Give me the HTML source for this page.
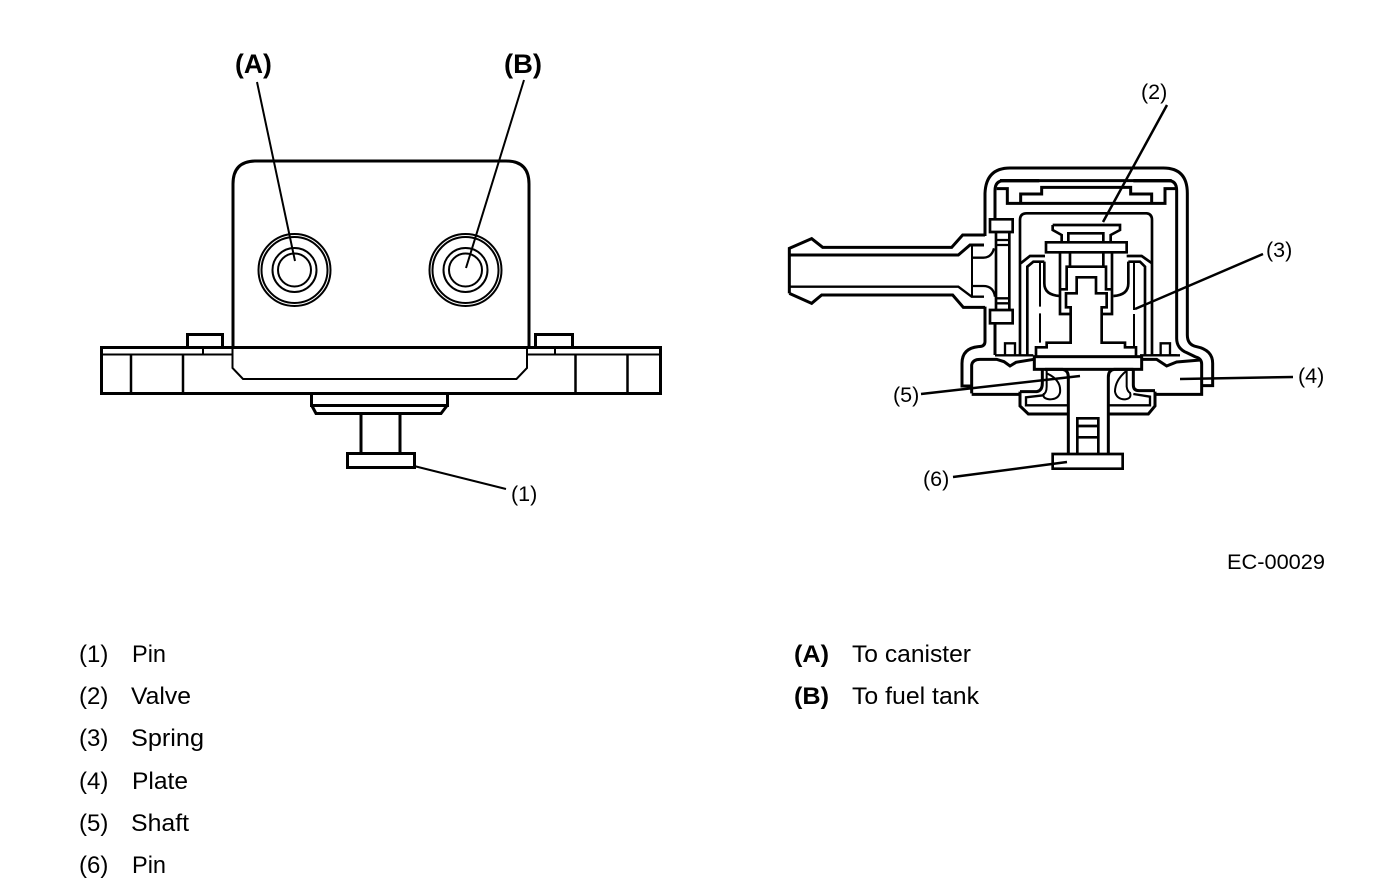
<!DOCTYPE html>
<html><head><meta charset="utf-8"><style>
html,body{margin:0;padding:0;background:#fff}
svg{display:block}
text{font-family:"Liberation Sans",sans-serif;fill:#000}
.f{font-size:21.5px}.l{font-size:24px}.b{font-weight:bold}
</style></head><body>
<svg width="1376" height="890" viewBox="0 0 1376 890" xmlns="http://www.w3.org/2000/svg">
<!-- Left drawing -->
<g fill="none" stroke="#000" stroke-width="3">
<path d="M233 347V184Q233 161 256 161H506Q529 161 529 184V347"/>
<path d="M101.500 347.500H660.500V393.500H101.500Z"/>
<path d="M102 354.500H232M527 354.500H660" stroke-width="2"/>
<path d="M131 354V393M183 354V393M575.500 354V393M627.500 354V393" stroke-width="2.500"/>
<path d="M187.500 347V334.500H222.500V347M535.500 347V334.500H572.500V347"/>
<path d="M203 347V354M555 347V354" stroke-width="2"/>
<path d="M232.500 348V368L243 379H516.500L527 368V348" stroke-width="2"/>
<path d="M311.500 394V405.500H447.500V394"/>
<path d="M311.500 405L316 413.500H441L447.500 405"/>
<path d="M361 414V453M400 414V453"/>
<path d="M347.500 453.500H414.500V467.500H347.500Z"/>
<g stroke-width="2">
<circle cx="294.500" cy="270" r="36"/><circle cx="294.500" cy="270" r="33"/><circle cx="294.500" cy="270" r="22"/><circle cx="294.500" cy="270" r="16.500"/>
<circle cx="465.500" cy="270" r="36"/><circle cx="465.500" cy="270" r="33"/><circle cx="465.500" cy="270" r="22"/><circle cx="465.500" cy="270" r="16.500"/>
</g>
<path d="M257 82L295 261M524 80L466 268M414 466L506 489" stroke-width="2"/>
</g>
<!-- Right drawing, nipple and shell (coordinates in 3x crop space) -->
<g transform="translate(780 160) scale(.33333)" fill="none" stroke="#000" stroke-width="9">
<path d="M28 400V265L95 236L128 262H515L548 225H615"/>
<path d="M28 400L95 430L125 405H518L550 442H615"/>
<path d="M30 285H535L570 255H612"/>
<path d="M30 380H535L575 410H612" stroke-width="7"/>
<path d="M576 255V410" stroke-width="6"/>
<path d="M578 293H610Q635 293 642 265M578 378H610Q640 378 645 410" stroke-width="7"/>
<path d="M615 228V100Q618 24 690 24H1150Q1222 24 1222 100V525Q1222 555 1250 560Q1298 570 1298 610V677H1262"/>
<path d="M615 440V545Q615 560 595 560Q546 565 546 610V678H578"/>
<path d="M645 178V92Q645 62 672 62H1165Q1190 62 1190 92V535Q1190 565 1220 578L1245 590Q1265 595 1265 612V703H1125"/>
<path d="M645 490V585" />
<path d="M660 62H778M1060 62H1175" stroke-width="10"/>
<path d="M650 86H682V130H1155V86H1190"/>
<path d="M722 130V102H785V82H1052V102H1115V130"/>
<path d="M630 178H698V216H630ZM630 450H698V490H630Z" stroke-width="8"/>
<path d="M648 216V450M688 216V450" stroke-width="8"/>
<path d="M648 240H688M648 255H688M648 415H688M648 430H688" stroke-width="7"/>
<path d="M575 703H720M575 700V615Q578 598 600 598H650L672 605L690 618L708 607L762 598"/>
<path d="M1085 598H1130L1160 618L1190 606L1262 600" />
<path d="M720 695V738L745 762H865M1125 695V738L1105 762H985"/>
<path d="M865 736H738V712L790 706M985 736H1110V710L1060 702" stroke-width="7"/>
<path d="M720 695H770Q787 692 787 670V630M1060 630V675Q1060 692 1077 692H1125"/>
<path d="M800 632V680Q800 700 788 705" stroke-width="6"/>
<path d="M800 640Q845 660 840 698Q835 718 810 718Q785 716 792 700" stroke-width="6"/>
<path d="M1040 632Q1005 660 1005 695Q1010 718 1035 718Q1056 716 1050 698M1040 632V680Q1042 695 1052 700" stroke-width="6"/>
<path d="M795 628H848Q865 630 865 652V885M985 885V652Q985 630 1002 628H1060"/>
<rect x="763" y="590" width="322" height="38"/>
</g>
<!-- Right drawing, central parts -->
<g transform="translate(950 200) scale(.33333)" fill="none" stroke="#000" stroke-width="8">
<path d="M210 468V60Q210 40 230 40H590Q606 42 606 60V468"/>
<path d="M212 190L240 168H285M606 190L575 168H530"/>
<path d="M232 468V200L250 185H283M585 468V200L570 185H535"/>
<path d="M258 468V442H290V428H362V322H348V280H380V232H438V280H470V322H455V428H525V442H558V468"/>
<path d="M308 75H510V90L482 105V127M308 75V90L335 105V127M355 127V100H460V127"/>
<path d="M288 127H530V157H288Z"/>
<path d="M330 157V342H362M486 157V342H455"/>
<path d="M360 157V200H350V268H330M460 157V200H468V268H486M350 200H468"/>
<path d="M283 185V250Q283 285 330 288M535 185V250Q535 285 490 288"/>
<path d="M270 185V320M270 340V428M552 185V330M552 342V442" stroke-width="6"/>
<path d="M135 466H165V430H195V466M610 466H632V430H660V466H690" stroke-width="7"/>
<path d="M165 466H250M570 466H680" stroke-width="7"/>
</g>
<!-- Pin internals -->
<g transform="translate(950 330) scale(.33333)" fill="none" stroke="#000" stroke-width="8">
<path d="M382 372V265H445V372M382 288H445M382 322H445"/>
<path d="M308 372H518V416H308Z"/>
</g>
<!-- Leaders -->
<g fill="none" stroke="#000" stroke-width="2.500">
<path d="M1167 105L1103 222M1263 254L1135 309M1293 377L1180 379M921 394L1080 376M953 477L1067 462"/>
</g>
<!-- Labels -->
<text x="235" y="73" font-size="26.500" class="b">(A)</text>
<text x="504" y="73" font-size="26.500" class="b" textLength="38" lengthAdjust="spacingAndGlyphs">(B)</text>
<text x="511" y="501" class="f">(1)</text>
<text x="1141" y="99" class="f">(2)</text>
<text x="1266" y="257" class="f">(3)</text>
<text x="1298" y="383" class="f">(4)</text>
<text x="893" y="402" class="f">(5)</text>
<text x="923" y="486" class="f">(6)</text>
<text x="1227" y="569" class="f" textLength="98" lengthAdjust="spacingAndGlyphs">EC-00029</text>
<g class="l">
<text x="79" y="662">(1)</text><text x="132" y="662" textLength="34" lengthAdjust="spacingAndGlyphs">Pin</text>
<text x="79" y="704">(2)</text><text x="131" y="704" textLength="60" lengthAdjust="spacingAndGlyphs">Valve</text>
<text x="79" y="746">(3)</text><text x="131" y="746" textLength="73" lengthAdjust="spacingAndGlyphs">Spring</text>
<text x="79" y="789">(4)</text><text x="132" y="789" textLength="56" lengthAdjust="spacingAndGlyphs">Plate</text>
<text x="79" y="831">(5)</text><text x="131" y="831" textLength="58" lengthAdjust="spacingAndGlyphs">Shaft</text>
<text x="79" y="873">(6)</text><text x="132" y="873" textLength="34" lengthAdjust="spacingAndGlyphs">Pin</text>
<text x="794" y="662" class="b" textLength="35" lengthAdjust="spacingAndGlyphs">(A)</text><text x="852" y="662" textLength="119" lengthAdjust="spacingAndGlyphs">To canister</text>
<text x="794" y="704" class="b" textLength="35" lengthAdjust="spacingAndGlyphs">(B)</text><text x="852" y="704" textLength="127" lengthAdjust="spacingAndGlyphs">To fuel tank</text>
</g>
</svg>
</body></html>
